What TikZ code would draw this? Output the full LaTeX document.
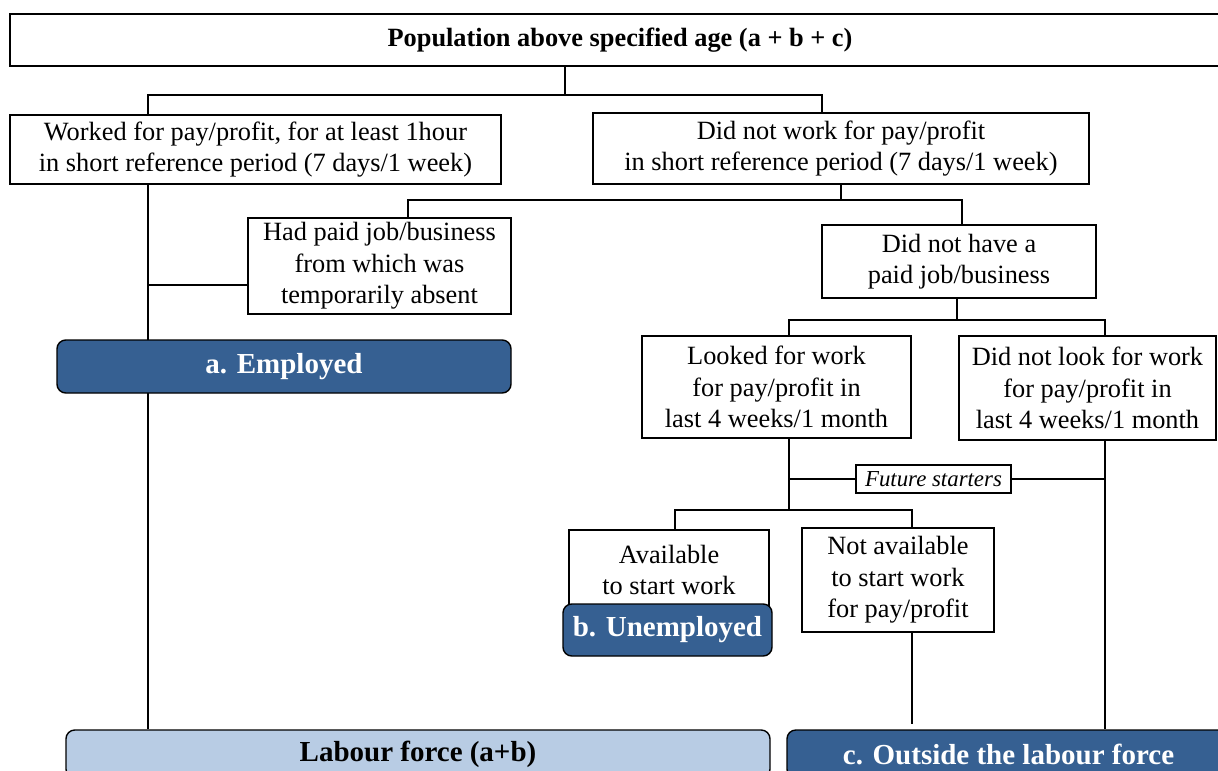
\documentclass[tikz,border=0pt]{standalone}
\usepackage{fontspec}
\setmainfont{Liberation Serif}
\usepackage{tikz}
\usetikzlibrary{backgrounds}
\definecolor{darkblue}{RGB}{54,96,146}
\definecolor{lightblue}{RGB}{184,204,228}
\tikzset{
    %Define size in pixels of the reference
    sz/.style 2 args={
           minimum width=#1*0.02cm,
           minimum height=#2*0.02cm},
    %Define style for plain boxes
    box/.style={
           rectangle,
           draw=black, line width=0.8pt,
           fill=white,
           inner sep=0pt,
           align=center,
           font=\fontsize{15}{18}\selectfont},
    %Define style for result boxes
    result/.style={
           rectangle,
           rounded corners=5pt,
           draw=black, line width=0.8pt,
           fill=darkblue,
           text=white,
           inner sep=0pt,
           align=center,
           font=\fontsize{16.5}{19}\selectfont\bfseries},
    % Define connector style
    link/.style={
           line width=1.1pt}
}
\begin{document}
\begin{tikzpicture}[x=0.02cm,y=-0.02cm]
\useasboundingbox (0,0) rectangle (1218,771);
\clip (0,0) rectangle (1218,771);
 %nodes
\node[box, sz={1220}{52}, font=\fontsize{15}{18}\selectfont\bfseries] (top) at (620,40)
    {Population above specified age (a + b + c)};
\node[box, sz={491}{69}] (worked) at (255.5,149.5)
    {Worked for pay/profit, for at least 1hour\\in short reference period (7 days/1 week)};
\node[box, sz={496}{71}] (didnot) at (841,148.5)
    {Did not work for pay/profit\\in short reference period (7 days/1 week)};
\node[box, sz={263}{96}] (hadpaid) at (379.5,266)
    {Had paid job/business\\from which was\\temporarily absent};
\node[box, sz={274}{73}] (nothave) at (959,261.5)
    {Did not have a\\paid job/business};
\node[result, sz={454}{53}] (employed) at (284,366.5) {a. Employed};
\node[box, sz={269}{102}] (looked) at (776.5,387)
    {Looked for work\\for pay/profit in\\last 4 weeks/1 month};
\node[box, sz={257}{104}] (notlook) at (1087.5,388)
    {Did not look for work\\for pay/profit in\\last 4 weeks/1 month};
\node[box, sz={155}{28}, font=\fontsize{13}{15}\selectfont\itshape] (future) at (933.5,479)
    {Future starters};
\node[box, sz={200}{80}] (avail) at (669,570)
    {Available\\to start work};
\node[result, sz={209}{52}] (unemp) at (667.5,630) {b. Unemployed};
\node[box, sz={192}{104}] (notavail) at (898,580)
    {Not available\\to start work\\for pay/profit};
\node[result, sz={704}{48}, fill=lightblue, text=black] (labour) at (418,754)
    {Labour force (a+b)};
\node[result, sz={443}{48}] (outside) at (1008.5,754)
    {c. Outside the labour force};

 %connectors
\begin{scope}[on background layer]
\begin{scope}[link]
\coordinate (b1) at (565,95);
\coordinate (b2) at (841,200);
\coordinate (b3) at (957,320);
\coordinate (b4) at (789,510);
\draw (top.south -| b1) -- (b1);
\draw (148,0 |- worked.north) |- (b1) -| (822,0 |- didnot.north);
\draw (didnot.south -| b2) -- (b2);
\draw (408,0 |- hadpaid.north) |- (b2) -| (962,0 |- nothave.north);
\draw (148,0 |- worked.south) -- (148,0 |- labour.north);
\draw (148,285) -- (hadpaid.west |- 0,285);
\draw (nothave.south -| b3) -- (b3);
\draw (789,0 |- looked.north) |- (b3) -| (1105,0 |- notlook.north);
\draw (789,0 |- looked.south) -- (b4);
\draw (675,0 |- avail.north) |- (b4) -| (912,0 |- notavail.north);
\draw (789,0 |- future.west) -- (future.west);
\draw (future.east) -- (1105,0 |- future.east);
\draw (1105,0 |- notlook.south) -- (1105,0 |- outside.north);
\coordinate (e1) at (912,724);
\draw (notavail.south -| e1) -- (e1);
\end{scope}
\end{scope}
\end{tikzpicture}
\end{document}
